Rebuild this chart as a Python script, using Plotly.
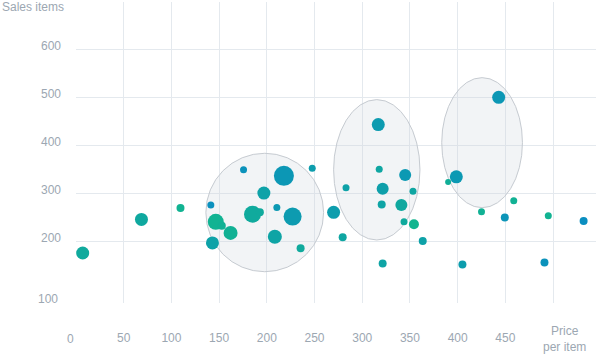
import plotly.graph_objects as go

# ---- data ----
price = [7, 68.6, 109.5, 141.3, 175.6, 146.5, 152.8, 162, 143, 185, 192.7, 196.9, 210.5,
         217.9, 227, 208.4, 235.4, 247.6, 270, 279.5, 283, 316.8, 317.8, 321.4, 320.4,
         321.4, 345, 353.2, 341, 343.8, 354.2, 363.4, 390, 398.6, 405, 443, 425, 449.4,
         458.8, 495, 491, 532]
sales = [176, 246, 270, 276, 350, 241, 233, 218, 197, 257, 261, 301, 271,
         337, 252, 210, 186, 353, 261, 209, 312, 444, 351, 310, 277,
         154, 339, 305, 276, 241, 236, 201, 324, 335, 152, 501, 262, 250,
         285, 254, 156, 243]
bubble = [13, 13, 8, 7, 7, 16, 8, 14, 13, 17, 8, 13, 7,
          20, 18, 14, 8, 7, 13, 8, 7, 13, 7, 12, 8,
          8, 12, 7, 12, 7, 10, 8, 6, 13, 8, 13, 7, 8,
          7, 7, 8, 8]
shade = [0.3, 0.35, 0.1, 0.9, 0.85, 0.1, 0.15, 0.15, 0.5, 0.3, 0.3, 0.5, 0.7,
         0.75, 0.65, 0.45, 0.3, 0.6, 0.6, 0.4, 0.5, 0.65, 0.4, 0.55, 0.45,
         0.45, 0.7, 0.4, 0.35, 0.3, 0.05, 0.5, 0.2, 0.7, 0.6, 0.75, 0.15, 0.8,
         0.15, 0.1, 0.85, 0.95]

x_ticks = [50, 100, 150, 200, 250, 300, 350, 400, 450, 500]
x_labels = ["50", "100", "150", "200", "250", "300", "350", "400", "450", ""]
y_ticks = [200, 300, 400, 500, 600]
y_labels = ["200", "300", "400", "500", "600"]

# ellipses (data coords): x0, x1, y0, y1
groups = [
    (136.1, 259.5, 136.9, 384.2),
    (270.0, 360.5, 203.1, 496.2),
    (383.3, 467.9, 270.6, 542.1),
]

TXT = "#9ca7b2"
FONT = "Liberation Sans, Arial, sans-serif"

fig = go.Figure()
fig.add_trace(go.Scatter(
    x=price, y=sales, mode="markers",
    marker=dict(size=bubble, sizemode="diameter", sizeref=1,
                color=shade, cmin=0, cmax=1,
                colorscale=[[0, "#12b78c"], [1, "#0a8cc3"]],
                opacity=1, line=dict(width=0)),
    hoverinfo="x+y", showlegend=False,
))

for (x0, x1, y0, y1) in groups:
    fig.add_shape(type="circle", xref="x", yref="y", x0=x0, x1=x1, y0=y0, y1=y1,
                  layer="between", fillcolor="rgba(205,212,220,0.25)",
                  line=dict(color="#c6cbd1", width=1))

fig.update_layout(
    width=596, height=356, autosize=False,
    margin=dict(l=76, r=0, t=2, b=53),
    paper_bgcolor="white", plot_bgcolor="white",
    font=dict(family=FONT, size=12, color=TXT),
    xaxis=dict(range=[0, 545], tickvals=x_ticks, ticktext=x_labels,
               showgrid=True, gridcolor="#e4e9ee", gridwidth=1,
               zeroline=False, showline=False, ticks="",
               ticklabelstandoff=26, tickfont=dict(size=12, color=TXT, family=FONT)),
    yaxis=dict(range=[71.6, 700], tickvals=y_ticks, ticktext=y_labels,
               showgrid=True, gridcolor="#e4e9ee", gridwidth=1,
               zeroline=False, showline=False, ticks="",
               ticklabelstandoff=14, ticklabelshift=-4,
               tickfont=dict(size=12, color=TXT, family=FONT)),
    annotations=[
        dict(text="Sales items", xref="paper", yref="paper", x=0, y=1,
             xshift=-76, yshift=4, xanchor="left", yanchor="top", showarrow=False,
             font=dict(size=12, color=TXT, family=FONT)),
        dict(text="100", xref="paper", yref="paper", x=0, y=0, xshift=-16, yshift=4,
             xanchor="right", yanchor="middle", showarrow=False,
             font=dict(size=12, color=TXT, family=FONT)),
        dict(text="0", xref="paper", yref="paper", x=0, y=0, xshift=-6, yshift=-36,
             xanchor="center", yanchor="middle", showarrow=False,
             font=dict(size=12, color=TXT, family=FONT)),
        dict(text="Price<br>per item", xref="x", yref="paper", x=512, y=0, yshift=-36,
             xanchor="center", yanchor="middle", showarrow=False,
             font=dict(size=12, color=TXT, family=FONT)),
    ],
)

fig.write_html("out.html", config={"displayModeBar": False},
               post_script="document.body.style.margin='0px';document.body.style.padding='0px';")
